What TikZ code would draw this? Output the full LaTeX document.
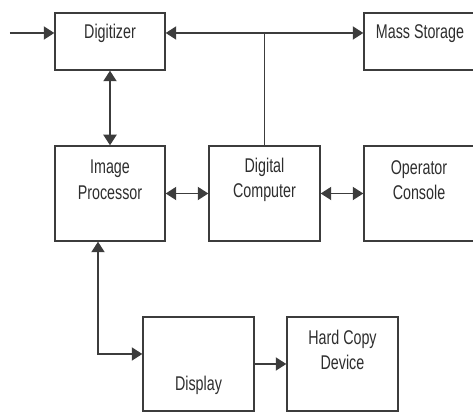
\documentclass[tikz,border=0pt]{standalone}
\usepackage{fontspec}
\setmainfont{Liberation Sans}[FakeStretch=0.72]
\usetikzlibrary{arrows.meta}

\definecolor{edge}{HTML}{3C3C3C}
\definecolor{ink}{HTML}{2E2E2E}

\begin{document}
\begin{tikzpicture}[
    font=\fontsize{11.3}{14.5}\selectfont,
    block/.style={draw=edge, line width=0.8pt, minimum width=2.2cm, inner sep=0pt, fill=white},
    txt/.style={text=ink, align=center, inner sep=0pt},
    arr/.style={-{Triangle[length=6pt, width=7.5pt]}, line width=0.8pt, draw=edge},
    biarr/.style={{Triangle[length=6pt, width=7.5pt]}-{Triangle[length=6pt, width=7.5pt]}, line width=0.8pt, draw=edge},
    bus/.style={line width=0.8pt, draw=edge},
]
    \clip (0,0) rectangle (9.46,8.24);

    % ----- top row -----
    \node[block, minimum height=1.14cm] (dig) at (2.2, 7.41) {};
    \node[block, minimum height=1.14cm, minimum width=2.24cm] (mass) at (8.4, 7.41) {};
    \node[txt] (digT) at (2.2, 7.58) {Digitizer};
    \node[txt] (massT) at (8.4, 7.56) {Mass Storage};

    % ----- middle row -----
    \node[block, minimum height=1.9cm] (imgp) at (2.2, 4.37) {};
    \node[block, minimum height=1.9cm, minimum width=2.22cm] (dcomp) at (5.29, 4.37) {};
    \node[block, minimum height=1.9cm, minimum width=2.24cm] (opcon) at (8.4, 4.37) {};
    \node[txt] (imgpT) at (2.2, 4.64) {Image\\Processor};
    \node[txt] (dcompT) at (5.29, 4.64) {Digital\\Computer};
    \node[txt] (opconT) at (8.38, 4.64) {Operator\\Console};

    % ----- bottom row -----
    \node[block, minimum height=1.88cm, minimum width=2.22cm] (disp) at (3.97, 0.96) {};
    \node[block, minimum height=1.88cm, minimum width=2.22cm] (hcd) at (6.85, 0.96) {};
    \node[txt] (dispT) at (3.97, 0.54) {Display};
    \node[txt] (hcdT) at (6.85, 1.24) {Hard Copy\\Device};

    % connectors
    \coordinate (src) at (0.2, 7.58);
    \coordinate (tap) at (5.29, 7.58);
    \coordinate (bend) at (1.96, 1.16);

    \draw[arr] (src) -- (src -| dig.west);
    \draw[biarr] (dig.east |- tap) -- (mass.west |- tap);
    \draw[bus] (dcomp.north) -- (tap);
    \draw[biarr] (dig) -- (imgp);
    \draw[biarr] (imgp) -- (dcomp);
    \draw[biarr] (dcomp) -- (opcon);
    \draw[biarr] (imgp.south -| bend) -- (bend) -- (bend -| disp.west);
    \draw[arr] (disp) -- (hcd);
\end{tikzpicture}
\end{document}
